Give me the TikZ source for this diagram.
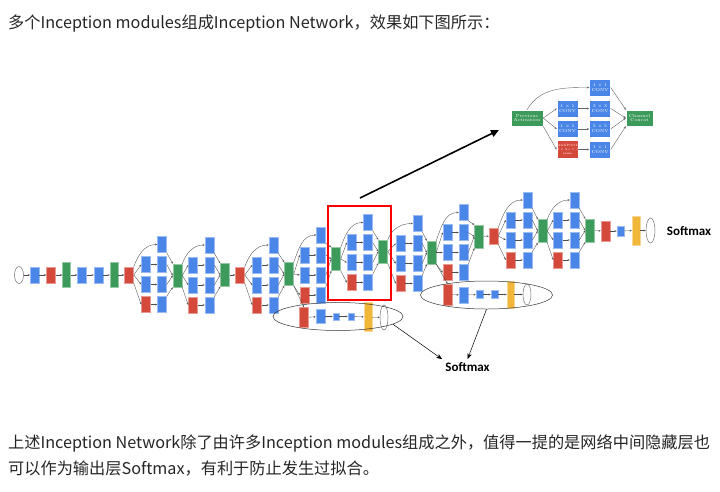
\documentclass[tikz,border=0pt]{standalone}
\usepackage{fontspec}
\newfontfamily\cjk{Noto Sans CJK SC}
\newfontfamily\cbf{Carlito}
\usetikzlibrary{arrows.meta,shapes.geometric}
\definecolor{gb}{HTML}{4A86E8}
\definecolor{gre}{HTML}{D5493A}
\definecolor{gg}{HTML}{3C9A5A}
\definecolor{gy}{HTML}{F0B73A}
\tikzset{
  base/.style={rectangle, inner sep=0pt, line width=0.5pt},
  bl/.style={base, fill=gb, draw=gb!55!white, minimum width=9pt, minimum height=16pt},
  rd/.style={base, fill=gre, draw=gre!55!white, minimum width=9pt, minimum height=16pt},
  gr/.style={base, fill=gg, draw=gg!55!white, minimum width=9pt, minimum height=23pt},
  yl/.style={base, fill=gy, draw=gy!55!white, minimum width=8pt, minimum height=29pt},
  el/.style={ellipse, draw=black!55, fill=white, line width=0.5pt, inner sep=0pt, minimum width=9pt, minimum height=17pt},
  big/.style={ellipse, draw=black!80, line width=0.5pt, inner sep=0pt},
  ar/.style={-{Stealth[length=2.2pt,width=1.8pt]}, line width=0.35pt, draw=black!70},
  det/.style={rectangle, inner sep=0pt, minimum width=21pt, minimum height=17pt, text=white, align=center, font=\fontsize{4.3}{4.9}\selectfont, draw=white, line width=0.4pt},
  dar/.style={-{Stealth[length=2.4pt,width=2pt]}, line width=0.4pt, draw=black!60},
  smx/.style={font=\cbf\bfseries\fontsize{13}{15}\selectfont, inner sep=3pt},
  txt/.style={anchor=base west, inner sep=0pt, text=black!85, font=\cjk\fontsize{16.2}{19}\selectfont},
}
\newcommand{\incmod}[7]{%
  \node[bl] (#1t) at (#4,-#5) {};
  \node[bl] (#1a) at (#3,-#5-20) {};
  \node[bl] (#1b) at (#3,-#5-40) {};
  \node[rd] (#1c) at (#3,-#5-60) {};
  \node[bl] (#1d) at (#4,-#5-20) {};
  \node[bl] (#1e) at (#4,-#5-40) {};
  \node[bl] (#1f) at (#4,-#5-60) {};
  \node[gr] (#1o) at (#6,-#7) {};
  \draw[ar] (#2.north east) to[out=70,in=180] (#1t.west);
  \draw[ar] (#2.east) -- (#1a.west);
  \draw[ar] (#2.east) -- (#1b.west);
  \draw[ar] (#2.south east) -- (#1c.west);
  \draw[ar] (#1a) -- (#1d);
  \draw[ar] (#1b) -- (#1e);
  \draw[ar] (#1c) -- (#1f);
  \draw[ar] (#1t.south east) -- (#1o.north west);
  \draw[ar] (#1d.east) -- (#1o.west);
  \draw[ar] (#1e.east) -- (#1o.west);
  \draw[ar] (#1f.north east) -- (#1o.south west);
}
\begin{document}
\begin{tikzpicture}[x=1pt,y=1pt]
\useasboundingbox (0,0) rectangle (720,-491);
\fill[white] (0,0) rectangle (720,-491);

% texts
\node[txt] (t1) at (8,-28) {多个Inception modules组成Inception Network，效果如下图所示：};
\node[txt] (t2) at (8,-448) {上述Inception Network除了由许多Inception modules组成之外，值得一提的是网络中间隐藏层也};
\node[txt] (t3) at (8,-474) {可以作为输出层Softmax，有利于防止发生过拟合。};

% stem
\node[el] (in) at (19,-275) {};
\node[bl] (c1) at (34.7,-275) {};
\node[rd] (p1) at (51,-275) {};
\node[gr, minimum width=8pt, minimum height=25pt] (n1) at (66.5,-275) {};
\node[bl] (c2) at (82,-275) {};
\node[bl] (c3) at (98.5,-275) {};
\node[gr, minimum width=8pt, minimum height=25pt] (n2) at (114,-275) {};
\node[rd] (p2) at (129,-275) {};
\draw[ar] (in) -- (c1);
\draw[ar] (c1) -- (p1);
\draw[ar] (p1) -- (n1);
\draw[ar] (n1) -- (c2);
\draw[ar] (c2) -- (c3);
\draw[ar] (c3) -- (n2);
\draw[ar] (n2) -- (p2);

% modules
\incmod{ma}{p2}{146}{162}{244.5}{177.5}{275.5}
\incmod{mb}{mao}{193}{209.5}{245}{225}{275}
\node[rd] (p3) at (240,-275) {};
\draw[ar] (mbo) -- (p3);
\incmod{mc}{p3}{257}{273.5}{245}{289}{274}
\incmod{md}{mco}{304.5}{321}{235}{336}{259}
\incmod{me}{mdo}{351.5}{368}{222.5}{383}{251.5}
\incmod{mf}{meo}{400.5}{417.5}{223.5}{431.5}{252.5}
\incmod{mg}{mfo}{447.5}{463.5}{212.5}{479}{236.5}
\node[rd] (p4) at (493.5,-236) {};
\draw[ar] (mgo) -- (p4);
\incmod{mh}{p4}{510.5}{527.5}{200}{542.5}{231}
\incmod{mi}{mho}{558}{574.5}{200}{590}{230.5}
\node[rd, minimum height=20pt] (av) at (605.5,-231) {};
\node[bl, minimum width=7pt, minimum height=10pt] (fc) at (620.5,-231) {};
\node[yl] (sx) at (636,-230.5) {};
\node[el, minimum height=25pt] (out) at (650.5,-230.5) {};
\node[smx] (sm1) at (689,-231) {Softmax};
\draw[ar] (mio) -- (av);
\draw[ar] (av) -- (fc);
\draw[ar] (fc) -- (sx);
\draw[ar] (sx) -- (out);

% red highlight
\node[draw=red, line width=1.1pt, minimum width=63pt, minimum height=94pt, inner sep=0pt] (rr) at (359.5,-253) {};

% auxiliary 1
\node[rd, minimum height=20pt] (a1r) at (304,-317.5) {};
\node[bl, minimum height=14pt] (a1c) at (320.5,-316.5) {};
\node[bl, minimum width=6pt, minimum height=7pt] (a1f) at (336,-316.5) {};
\node[bl, minimum width=6pt, minimum height=7pt] (a1g) at (351,-316.5) {};
\node[yl] (a1y) at (368,-317) {};
\node[el, minimum width=8pt, minimum height=25pt] (a1s) at (384,-317.5) {};
\node[big, minimum width=130pt, minimum height=28pt] (ae1) at (338,-316.5) {};
\draw[ar] (mco.south east) -- (a1r.north);
\draw[ar] (a1r) -- (a1c);
\draw[ar] (a1c) -- (a1f);
\draw[ar] (a1f) -- (a1g);
\draw[ar] (a1g) -- (a1y);
\draw[ar] (a1y) -- (a1s);

% auxiliary 2
\node[rd, minimum height=21pt] (a2r) at (447.5,-294.5) {};
\node[bl] (a2c) at (463.5,-295) {};
\node[bl, minimum width=7pt, minimum height=8pt] (a2f) at (479.5,-294.5) {};
\node[bl, minimum width=7pt, minimum height=8pt] (a2g) at (494.5,-294.5) {};
\node[yl, minimum width=7pt, minimum height=27pt] (a2y) at (510.5,-294.5) {};
\node[el, minimum width=8pt, minimum height=21pt] (a2s) at (527,-294.5) {};
\node[big, minimum width=132pt, minimum height=28pt] (ae2) at (486.5,-295) {};
\draw[ar] (mfo.south east) -- (a2r.north);
\draw[ar] (a2r) -- (a2c);
\draw[ar] (a2c) -- (a2f);
\draw[ar] (a2f) -- (a2g);
\draw[ar] (a2g) -- (a2y);
\draw[ar] (a2y) -- (a2s);

% lower softmax
\node[smx] (sm2) at (467.5,-367) {Softmax};
\draw[-{Stealth[length=6pt,width=4.5pt]}, line width=0.5pt] (ae1.-8) -- (sm2.north west);
\draw[-{Stealth[length=6pt,width=4.5pt]}, line width=0.5pt] (ae2.south) -- (sm2.north);

% big arrow
\coordinate (ba1) at (360,-198);
\coordinate (ba2) at (499,-130);
\draw[-{Triangle[length=8pt,width=7pt]}, line width=1.6pt] (ba1) -- (ba2);

% detail inception module
\node[det, fill=gg, minimum width=32pt, minimum height=16pt] (xpa) at (527,-118) {Previous\\Activation};
\node[det, fill=gb] (xd1) at (567.5,-108.5) {1 × 1\\CONV};
\node[det, fill=gb] (xd2) at (567.5,-129) {1 × 1\\CONV};
\node[det, fill=gre, minimum height=18pt, font=\fontsize{3.1}{4.3}\selectfont] (xdm) at (567.5,-149.5) {MAXPOOL\\3 × 3,s = 1\\same};
\node[det, fill=gb] (xdt) at (600,-87.5) {1 × 1\\CONV};
\node[det, fill=gb] (xd3) at (600,-108.5) {3 × 3\\CONV};
\node[det, fill=gb] (xd5) at (600,-129) {5 × 5\\CONV};
\node[det, fill=gb] (xd1b) at (600,-149.5) {1 × 1\\CONV};
\node[det, fill=gg, minimum width=27pt, minimum height=16pt] (xcc) at (639.5,-118) {Channel\\Concat};
\draw[dar] (xpa.north) to[out=60,in=180] (xdt.west);
\draw[dar] (xpa.east) -- (xd1.west);
\draw[dar] (xpa.east) -- (xd2.west);
\draw[dar] (xpa.south east) -- (xdm.west);
\draw[dar] (xd1) -- (xd3);
\draw[dar] (xd2) -- (xd5);
\draw[dar] (xdm) -- (xd1b);
\draw[dar] (xdt.east) -- (xcc.north west);
\draw[dar] (xd3.east) -- (xcc.west);
\draw[dar] (xd5.east) -- (xcc.west);
\draw[dar] (xd1b.east) -- (xcc.south west);
\end{tikzpicture}
\end{document}
